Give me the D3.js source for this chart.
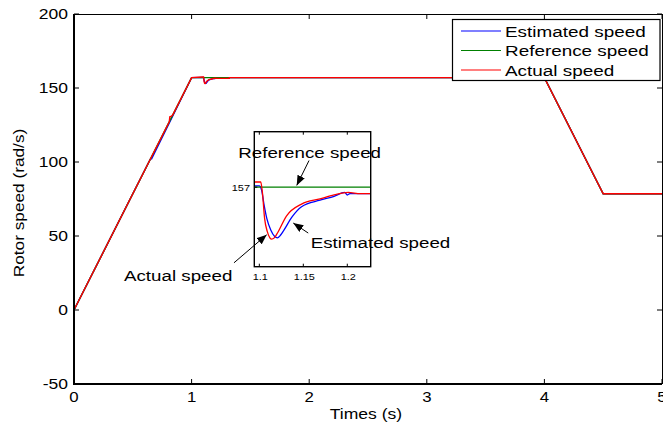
<!DOCTYPE html>
<html>
<head>
<meta charset="utf-8">
<script src="https://cdn.jsdelivr.net/npm/d3@7"></script>
<style>
  body { margin: 0; background: #fff; }
  svg { display: block; font-family: "Liberation Sans", Arial, sans-serif; }
</style>
</head>
<body>
<div id="chart"></div>
<script>
// series
const refTime   = [0, 1, 4, 4.5, 5];
const refSpeed  = [0, 157, 157, 78.5, 78.5];

const actTime   = [0, 0.81, 0.815, 0.83, 0.84, 1.0, 1.094, 1.1016, 1.1035, 1.106, 1.109, 1.112, 1.114, 1.117, 1.12, 1.131, 1.148, 1.169, 1.185, 1.201, 1.215, 1.2266, 1.32, 1.321, 4.0, 4.5, 5.0];
const actSpeed  = [0, 127.2, 130.5, 131, 131.9, 157, 157.4, 157.4, 156.6, 154.6, 153.6, 153.1, 153.0, 153.1, 153.4, 154.8, 155.7, 156.1, 156.4, 156.6, 156.5, 156.5, 156.6, 157, 157, 78.5, 78.5];

const estTime   = [0, 0.64, 0.65, 0.66, 1.0, 1.094, 1.1, 1.1025, 1.1055, 1.1085, 1.113, 1.1175, 1.1205, 1.124, 1.128, 1.137, 1.148, 1.169, 1.185, 1.197, 1.2, 1.203, 1.2266, 1.32, 1.321, 4.0, 4.5, 5.0];
const estSpeed  = [0, 100.5, 102, 102.1, 157, 157.1, 157.1, 156.8, 155.6, 154.6, 153.7, 153.2, 153.1, 153.3, 153.7, 154.7, 155.5, 156.0, 156.3, 156.6, 156.4, 156.5, 156.5, 156.6, 157, 157, 78.5, 78.5];

const timeTicks  = [0, 1, 2, 3, 4, 5];
const speedTicks = [-50, 0, 50, 100, 150, 200];
const insetTimeTicks  = [1.1, 1.15, 1.2];
const insetTimeLabels = ["1.1", "1.15", "1.2"];
const insetSpeedTicks = [157];

const legendNames = ["Estimated speed", "Reference speed", "Actual speed"];
const colors = ["#0000ff", "#008000", "#ff0000"];

// annotations in inset coordinates [time, speed]
const notes = [
  {text: "Reference speed", at: [1.0761, 159.24], tail: [1.1565, 159.05], tip: [1.1425, 157.13]},
  {text: "Estimated speed", at: [1.1584, 152.32], tail: [1.1556, 153.47], tip: [1.1386, 154.24]},
  {text: "Actual speed",    at: [0.9462, 149.8],  tail: [1.0712, 151.18], tip: [1.1084, 153.34]}
];

const W = 663, H = 424;
const m = {left: 74, right: 662, top: 14, bottom: 384};
const inset = {left: 254.3, right: 370.7, top: 131.7, bottom: 266.7};

const svg = d3.select("#chart").append("svg").attr("width", W).attr("height", H);

const defs = svg.append("defs");
defs.append("marker").attr("id", "head")
  .attr("markerUnits", "userSpaceOnUse")
  .attr("viewBox", "0 0 10 8").attr("refX", 10).attr("refY", 4)
  .attr("markerWidth", 10).attr("markerHeight", 8).attr("orient", "auto")
  .append("path").attr("d", "M0,0 L10,4 L0,8 Z").attr("fill", "#000");
defs.append("clipPath").attr("id", "insetClip").append("rect")
  .attr("x", inset.left).attr("y", inset.top)
  .attr("width", inset.right - inset.left).attr("height", inset.bottom - inset.top);

// text drawn a bit wider than the font, like the original
function label(g, x, y, str, size, sx, anchor, rot) {
  return g.append("text")
    .attr("transform", `translate(${x},${y})` + (rot ? ` rotate(${rot})` : "") + ` scale(${sx},1)`)
    .attr("font-size", size)
    .attr("text-anchor", anchor || "start")
    .attr("fill", "#000")
    .text(str);
}

const x = d3.scaleLinear().domain([0, 5]).range([m.left, m.right]);
const y = d3.scaleLinear().domain([-50, 200]).range([m.bottom, m.top]);

const series = [
  {t: estTime, v: estSpeed, c: colors[0]},
  {t: refTime, v: refSpeed, c: colors[1]},
  {t: actTime, v: actSpeed, c: colors[2]}
];

function drawLines(g, xs, ys, width, curve) {
  const line = d3.line().x(d => xs(d[0])).y(d => ys(d[1])).curve(curve || d3.curveLinear);
  for (const s of series) {
    g.append("path")
      .attr("d", line(s.t.map((t, i) => [t, s.v[i]])))
      .attr("fill", "none")
      .attr("stroke", s.c)
      .attr("stroke-width", width);
  }
}

// main plot
drawLines(svg.append("g"), x, y, 1.4);

const axes = svg.append("g");
const tl = 5;
for (const t of timeTicks) {
  axes.append("line").attr("x1", x(t)).attr("x2", x(t)).attr("y1", m.bottom).attr("y2", m.bottom - tl).attr("stroke", "#000");
  axes.append("line").attr("x1", x(t)).attr("x2", x(t)).attr("y1", m.top).attr("y2", m.top + tl).attr("stroke", "#000");
  label(axes, x(t), 402, String(t), 14, 1.2, "middle");
}
for (const v of speedTicks) {
  axes.append("line").attr("x1", m.left).attr("x2", m.left + tl).attr("y1", y(v)).attr("y2", y(v)).attr("stroke", "#000");
  axes.append("line").attr("x1", m.right).attr("x2", m.right - tl).attr("y1", y(v)).attr("y2", y(v)).attr("stroke", "#000");
  label(axes, 68, y(v) + 5, String(v), 14, 1.25, "end");
}
axes.append("line").attr("x1", m.left).attr("x2", m.right).attr("y1", m.top + 0.5).attr("y2", m.top + 0.5).attr("stroke", "#000");
axes.append("line").attr("x1", m.right + 0.5).attr("x2", m.right + 0.5).attr("y1", m.top).attr("y2", m.bottom).attr("stroke", "#000");
axes.append("line").attr("x1", m.left).attr("x2", m.left).attr("y1", m.top).attr("y2", m.bottom + 1).attr("stroke", "#000").attr("stroke-width", 2);
axes.append("line").attr("x1", m.left - 1).attr("x2", m.right).attr("y1", m.bottom).attr("y2", m.bottom).attr("stroke", "#000").attr("stroke-width", 2);

label(svg, (m.left + m.right) / 2 - 2, 419, "Times (s)", 15, 1.17, "middle");
label(svg, 24, 203, "Rotor speed (rad/s)", 15, 1.15, "middle", -90);

// legend
const lg = svg.append("g");
lg.append("rect").attr("x", 452.5).attr("y", 19.5).attr("width", 207.5).attr("height", 61)
  .attr("fill", "#fff").attr("stroke", "#000").attr("stroke-width", 1.2);
legendNames.forEach((name, i) => {
  const cy = 31 + i * 19.5;
  lg.append("line").attr("x1", 461).attr("x2", 501).attr("y1", cy).attr("y2", cy)
    .attr("stroke", colors[i]).attr("stroke-width", 1.2);
  label(lg, 505, cy + 5.5, name, 15, 1.26);
});

// inset
const xi = d3.scaleLinear().domain([1.0943, 1.2266]).range([inset.left, inset.right]);
const yi = d3.scaleLinear().domain([150.88, 161.27]).range([inset.bottom, inset.top]);

const ig = svg.append("g");
ig.append("rect").attr("x", inset.left).attr("y", inset.top)
  .attr("width", inset.right - inset.left).attr("height", inset.bottom - inset.top)
  .attr("fill", "#fff");
drawLines(ig.append("g").attr("clip-path", "url(#insetClip)"), xi, yi, 1.3, d3.curveMonotoneX);
insetTimeTicks.forEach((t, i) => {
  ig.append("line").attr("x1", xi(t)).attr("x2", xi(t)).attr("y1", inset.bottom).attr("y2", inset.bottom - 3).attr("stroke", "#000");
  ig.append("line").attr("x1", xi(t)).attr("x2", xi(t)).attr("y1", inset.top).attr("y2", inset.top + 3).attr("stroke", "#000");
  label(ig, xi(t) + 1, 279.5, insetTimeLabels[i], 9.5, 1.15, "middle");
});
for (const v of insetSpeedTicks) {
  ig.append("line").attr("x1", inset.left).attr("x2", inset.left + 3).attr("y1", yi(v)).attr("y2", yi(v)).attr("stroke", "#000");
  label(ig, 250, yi(v) + 4, String(v), 9.5, 1.15, "end");
}
ig.append("rect").attr("x", inset.left).attr("y", inset.top)
  .attr("width", inset.right - inset.left).attr("height", inset.bottom - inset.top)
  .attr("fill", "none").attr("stroke", "#000").attr("stroke-width", 1.4);

// annotations
for (const n of notes) {
  svg.append("line")
    .attr("x1", xi(n.tail[0])).attr("y1", yi(n.tail[1]))
    .attr("x2", xi(n.tip[0])).attr("y2", yi(n.tip[1]))
    .attr("stroke", "#000").attr("stroke-width", 1)
    .attr("marker-end", "url(#head)");
  label(svg, xi(n.at[0]), yi(n.at[1]), n.text, 15, 1.25);
}
</script>
</body>
</html>
